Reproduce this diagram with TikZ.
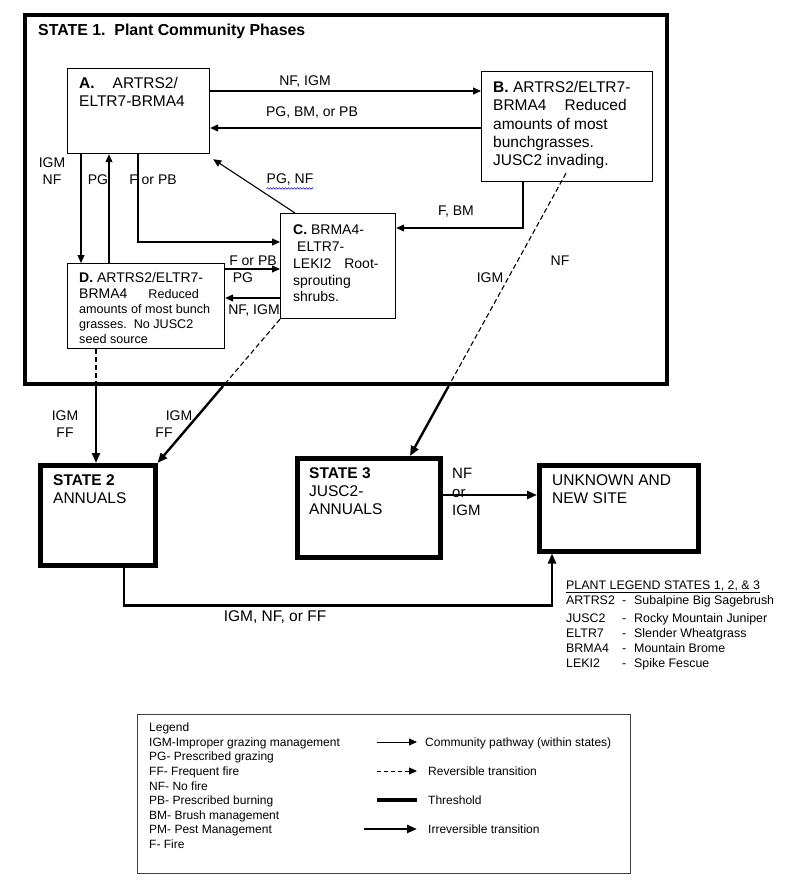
\documentclass[tikz,border=0pt]{standalone}
\usepackage{fontspec}
\setmainfont{Liberation Sans}
\usetikzlibrary{arrows.meta,calc,decorations.pathmorphing}
\begin{document}
\begin{tikzpicture}[x=1pt,y=-1pt,
  box/.style={draw,line width=1.2pt,inner sep=0pt,anchor=north west},
  sbox/.style={draw,line width=4.5pt,inner sep=0pt,anchor=north west},
  txt/.style={inner sep=0pt,anchor=north west,align=left},
  lbl/.style={inner sep=0pt,font=\fontsize{14}{17}\selectfont},
  legtxt/.style={inner sep=0pt,anchor=base west,font=\fontsize{12}{14.6}\selectfont},
  arr/.style={line width=1.1pt,-{Triangle[length=8pt,width=7pt]}},
  rev/.style={line width=1.1pt,dash pattern=on 5pt off 3pt},
  irr/.style={line width=2.4pt,-{Triangle[length=10pt,width=8pt]}},
  ]
\useasboundingbox (0,0) rectangle (800,885);

% ---------- State 1 ----------
\node[sbox,line width=4pt,minimum width=642pt,minimum height=369pt] (S1) at (23,13) {};
\node[inner sep=0pt,anchor=base west,font=\fontsize{15.9}{18}\selectfont\bfseries] (S1t) at (38,35.7) {STATE 1.\ \ Plant Community Phases};

\node[box,minimum width=142pt,minimum height=85pt] (A) at (67,68) {};
\node[txt,font=\fontsize{15.5}{18.4}\selectfont] (At) at (79,77.1) {\textbf{A.}\hspace{18pt}ARTRS2/\\ELTR7-BRMA4};

\node[box,minimum width=171pt,minimum height=110pt] (B) at (481,71) {};
\node[txt,font=\fontsize{15.5}{18.3}\selectfont] (Bt) at (493,81.1) {\textbf{B.} ARTRS2/ELTR7-\\BRMA4\hspace{18pt}Reduced\\amounts of most\\bunchgrasses.\\JUSC2 invading.};

\node[box,minimum width=115pt,minimum height=105pt] (C) at (280,213) {};
\node[txt,font=\fontsize{14}{16.7}\selectfont] (Ct) at (293,225) {\textbf{C.} BRMA4-\\\hspace*{4pt}ELTR7-\\LEKI2\hspace{13pt}Root-\\sprouting\\shrubs.};

\node[box,minimum width=157pt,minimum height=85pt] (D) at (67,263) {};
\begin{scope}
\clip (D.north west) rectangle ([yshift=6pt]D.south east);
\node[txt,font=\fontsize{12.6}{15}\selectfont] (Dt) at (79,271.7) {{\fontsize{14}{17}\selectfont\textbf{D.} ARTRS2/ELTR7-}\\[1pt]{\fontsize{14}{17}\selectfont BRMA4}\hspace{21pt}Reduced\\amounts of most bunch\\grasses.\ \ No JUSC2\\seed source};
\end{scope}

% ---------- other states ----------
\node[sbox,minimum width=115pt,minimum height=100pt] (S2) at (38,463) {};
\node[txt,font=\fontsize{15.5}{18}\selectfont] (S2t) at (53,474.8) {\textbf{STATE 2}\\ANNUALS};
\node[sbox,minimum width=143pt,minimum height=99pt] (S3) at (295,456) {};
\node[txt,font=\fontsize{15.5}{18}\selectfont] (S3t) at (309,467.1) {\textbf{STATE 3}\\JUSC2-\\ANNUALS};
\node[sbox,minimum width=159pt,minimum height=86pt] (U) at (537,463) {};
\node[txt,font=\fontsize{15.5}{18.3}\selectfont] (Ut) at (552,474.5) {UNKNOWN AND\\NEW SITE};

% ---------- community pathways ----------
\coordinate (ab1) at ([yshift=-23pt]A.north east);
\draw[arr] (ab1) -- (ab1 -| B.west);
\coordinate (ba1) at ([yshift=-57pt]B.north west);
\draw[arr] (ba1) -- (ba1 -| A.east);
\coordinate (ad1) at ([xshift=14pt]A.south west);
\draw[arr] (ad1) -- (ad1 |- D.north);
\coordinate (da1) at ([xshift=42pt]D.north west);
\draw[arr] (da1) -- (da1 |- A.south);
\coordinate (ac1) at ([xshift=71pt]A.south west);
\coordinate (ac2) at ([yshift=-29pt]C.north west);
\draw[arr] (ac1) |- (ac2);
\coordinate (ca1) at ([xshift=15pt]C.north west);
\coordinate (ca2) at ([shift={(3pt,-5pt)}]A.south east);
\draw[arr] (ca1) -- (ca2);
\coordinate (bc1) at ([xshift=42pt]B.south west);
\coordinate (bc2) at ([yshift=-15pt]C.north east);
\draw[arr] (bc1) |- (bc2);
\coordinate (dc1) at ([yshift=-6pt]D.north east);
\draw[arr] (dc1) -- (dc1 -| C.west);
\coordinate (cd1) at ([yshift=-85pt]C.north west);
\draw[arr] (cd1) -- (cd1 -| D.east);

% ---------- transitions ----------
\coordinate (dd1) at ([xshift=29pt]D.south west);
\coordinate (dd2) at (dd1 |- S1.south);
\draw[rev] (dd1) -- (dd2);
\draw[irr] (dd2) -- (dd2 |- S2.north);

\coordinate (cs1) at (C.south west);
\coordinate (cs2) at (intersection of C.south west--S2.north east and S1.south west--S1.south east);
\draw[rev] (cs1) -- (cs2);
\draw[irr] (cs2) -- (S2.north east);

\coordinate (bs1) at ([shift={(85pt,9pt)}]B.south west);
\coordinate (bs3) at ([xshift=115pt]S3.north west);
\coordinate (bs2) at (intersection of bs1--bs3 and S1.south west--S1.south east);
\draw[rev] (bs1) -- (bs2);
\draw[irr] (bs2) -- (bs3);

\coordinate (su1) at ([yshift=-39pt]S3.north east);
\draw[irr] (su1) -- (su1 -| U.west);

\coordinate (s2u1) at ([xshift=86pt]S2.south west);
\coordinate (s2u2) at ([yshift=-38pt]s2u1);
\coordinate (s2u3) at ([xshift=15pt]U.south west);
\draw[irr] (s2u1) -- (s2u2) -| (s2u3);

% ---------- labels ----------
\node[lbl] (l1) at (305,82) {NF, IGM};
\node[lbl] (l2) at (312,113) {PG, BM, or PB};
\node[lbl,align=center] (l3) at (52,171.5) {IGM\\NF};
\node[lbl] (l4) at (98,180) {PG};
\node[lbl] (l5) at (153,180) {F or PB};
\node[lbl] (l6) at (290,180) {PG, NF};
\draw[blue!75!black,line width=0.5pt,decorate,decoration={snake,amplitude=0.8pt,segment length=3pt}] ([yshift=-2.5pt]l6.south west) -- ([yshift=-2.5pt]l6.south east);
\node[lbl] (l7) at (456,212) {F, BM};
\node[lbl] (l8) at (253,261) {F or PB};
\node[lbl] (l9) at (243,278) {PG};
\node[lbl] (l10) at (254,311) {NF, IGM};
\node[lbl] (l11) at (490,278) {IGM};
\node[lbl] (l12) at (560,261) {NF};
\node[lbl,align=center] (l13) at (65,424.5) {IGM\\FF};
\node[lbl] (l14) at (179,416) {IGM};
\node[lbl] (l15) at (164,433) {FF};
\node[txt,font=\fontsize{15}{18.5}\selectfont] (l16) at (452,468) {NF\\or\\IGM};
\node[lbl,font=\fontsize{15.5}{18}\selectfont] (l17) at (275,617) {IGM, NF, or FF};

% ---------- plant legend ----------
\node[inner sep=0pt,anchor=base west,font=\fontsize{12.4}{15}\selectfont] (PL) at (566,589.3) {\underline{PLANT LEGEND STATES 1, 2, \& 3}};
\node[txt,font=\fontsize{12.4}{15}\selectfont] (PLc) at (566,595.4) {ARTRS2\\[3pt]JUSC2\\ELTR7\\BRMA4\\LEKI2};
\node[txt,font=\fontsize{12.4}{15}\selectfont] (PLd) at (622,595.4) {\vphantom{A}-\\[3pt]-\\-\\-\\-};
\node[txt,font=\fontsize{12.4}{15}\selectfont] (PLe) at (634,595.4) {Subalpine Big Sagebrush\\[3pt]Rocky Mountain Juniper\\Slender Wheatgrass\\Mountain Brome\\Spike Fescue};

% ---------- legend ----------
\node[box,line width=0.9pt,draw=black!75,minimum width=493pt,minimum height=159pt] (L) at (137,714) {};
\node[txt,font=\fontsize{12}{14.6}\selectfont] (Lt) at (149,722.7) {Legend\\IGM-Improper grazing management\\PG- Prescribed grazing\\FF- Frequent fire\\NF- No fire\\PB- Prescribed burning\\BM- Brush management\\PM- Pest Management\\F- Fire};
\coordinate (k1a) at (377,742); \coordinate (k1b) at (417,742);
\draw[arr,line width=1pt] (k1a) -- (k1b);
\node[legtxt] (k1t) at (425,746.3) {Community pathway (within states)};
\coordinate (k2a) at (377,771); \coordinate (k2b) at (417,771);
\draw[arr,line width=1pt,dash pattern=on 4pt off 3pt] (k2a) -- (k2b);
\node[legtxt] (k2t) at (428,775.3) {Reversible transition};
\coordinate (k3a) at (377,800); \coordinate (k3b) at (417,800);
\draw[line width=4pt] (k3a) -- (k3b);
\node[legtxt] (k3t) at (428,804.3) {Threshold};
\coordinate (k4a) at (364,829); \coordinate (k4b) at (417,829);
\draw[irr,line width=2.2pt] (k4a) -- (k4b);
\node[legtxt] (k4t) at (428,833.3) {Irreversible transition};
\end{tikzpicture}
\end{document}
